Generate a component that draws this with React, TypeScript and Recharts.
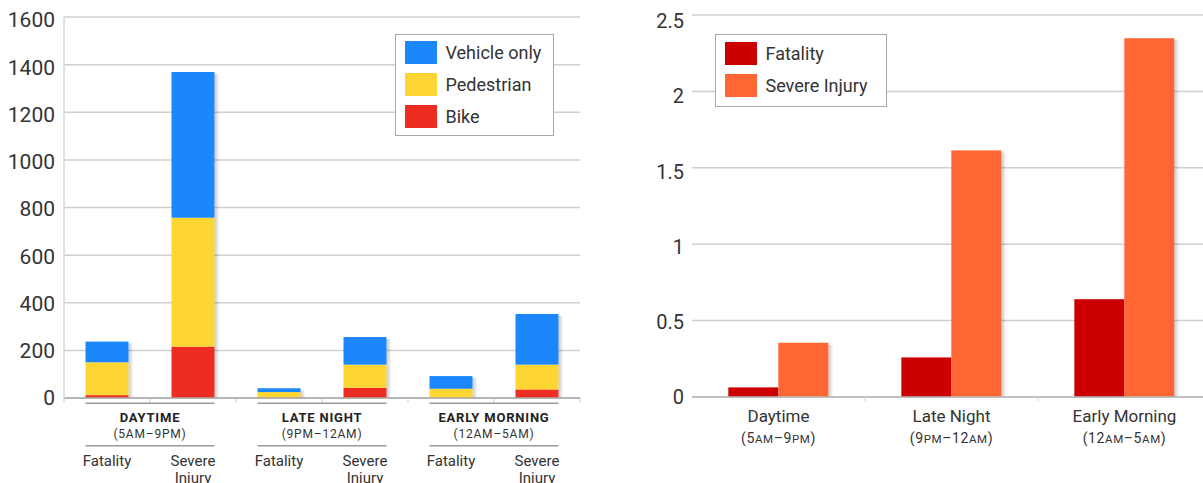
import React from 'react';
import { BarChart, Bar, XAxis, YAxis, CartesianGrid, Legend } from 'recharts';

// ---------- Left chart data ----------
const timeGroups = ['DAYTIME', 'LATE NIGHT', 'EARLY MORNING'];
const timeRanges = ['(5AM–9PM)', '(9PM–12AM)', '(12AM–5AM)'];
const severityLabels = ['Fatality', 'Severe Injury'];
const vehicleOnly = [87, 612, 16, 116, 53, 213];
const pedestrian = [138, 541, 24, 97, 39, 104];
const bike = [12, 216, 1, 43, 0, 36];
const leftTicks = [0, 200, 400, 600, 800, 1000, 1200, 1400, 1600];

// ---------- Right chart data ----------
const periods = ['Daytime', 'Late Night', 'Early Morning'];
const periodRanges = ['(5AM–9PM)', '(9PM–12AM)', '(12AM–5AM)'];
const fatalityRate = [0.063, 0.259, 0.64];
const severeInjuryRate = [0.355, 1.614, 2.348];
const rightTicks = [0, 0.5, 1, 1.5, 2, 2.5];

const leftSeries = [
  { key: 'vehicle', name: 'Vehicle only', color: '#1b87fb' },
  { key: 'pedestrian', name: 'Pedestrian', color: '#fdd633' },
  { key: 'bike', name: 'Bike', color: '#ee2d22' },
];
const rightSeries = [
  { key: 'fatality', name: 'Fatality', color: '#cc0000' },
  { key: 'severe', name: 'Severe Injury', color: '#ff6633' },
];

const leftData = timeGroups.flatMap((g, gi) =>
  severityLabels.map((s, si) => {
    const i = gi * 2 + si;
    return {
      cat: `${g}|${s}`,
      group: g,
      range: timeRanges[gi],
      severity: s,
      vehicle: vehicleOnly[i],
      pedestrian: pedestrian[i],
      bike: bike[i],
    };
  })
);

const rightData = periods.map((p, i) => ({
  period: p,
  range: periodRanges[i],
  fatality: fatalityRate[i],
  severe: severeInjuryRate[i],
}));

const FONT = 'Roboto, "DejaVu Sans", sans-serif';
const TEXT = '#333';

const LEFT_W = 590;
const LEFT_BAND = (LEFT_W - 64 - 10) / 6;
const RIGHT_BAND = 173;

const makeShadowBar = (gradId: string, inset: number) => (props: any) => {
  const { x, y, width, height, fill } = props;
  if (!height || height <= 0) return <g />;
  return (
    <g>
      <rect x={x + width} y={y + inset} width={5} height={Math.max(0, height - inset)} fill={`url(#${gradId})`} />
      <rect x={x} y={y} width={width} height={height} fill={fill} />
    </g>
  );
};

const LeftYTick = (props: any) => {
  const { x, y, payload } = props;
  return (
    <text x={x} y={y + (3 * payload.value) / 1600} dy="0.355em" textAnchor="end" fontSize={21} fill={TEXT} fontFamily={FONT}>
      {payload.value}
    </text>
  );
};

const RightYTick = (props: any) => {
  const { x, y, payload } = props;
  return (
    <text x={x} y={y + (6 * payload.value) / 2.5} dy="0.355em" textAnchor="end" fontSize={20} fill={TEXT} fontFamily={FONT}>
      {String(payload.value)}
    </text>
  );
};

const LeftXTick = (props: any) => {
  const { x, y, index, payload } = props;
  const row = leftData[index] || leftData.find((d) => d.cat === payload.value);
  const half = LEFT_BAND / 2;
  const barHalf = LEFT_BAND / 4;
  const isFirst = index % 2 === 0;
  const lines = row.severity.split(' ');
  return (
    <g fontFamily={FONT}>
      <line x1={x - half} x2={x - half} y1={y} y2={y + 4} stroke="#c8c8c8" />
      {index === leftData.length - 1 && <line x1={x + half} x2={x + half} y1={y} y2={y + 4} stroke="#c8c8c8" />}
      {isFirst && (
        <g>
          <line x1={x - barHalf} x2={x + LEFT_BAND + barHalf} y1={y + 5.3} y2={y + 5.3} stroke="#9a9a9a" strokeWidth={1.5} />
          <text x={x + half} y={y + 23.7} textAnchor="middle" fontSize={13} fontWeight="bold" letterSpacing={0.8} fill="#222">
            {row.group}
          </text>
          <text x={x + half} y={y + 40} textAnchor="middle" fontSize={12} letterSpacing={0.8} fill={TEXT}>
            {row.range}
          </text>
          <line x1={x - barHalf} x2={x + LEFT_BAND + barHalf} y1={y + 47.7} y2={y + 47.7} stroke="#9a9a9a" strokeWidth={1.5} />
        </g>
      )}
      {lines.map((t: string, i: number) => (
        <text key={i} x={x} y={y + 67.7 + i * 17} textAnchor="middle" fontSize={15} fill={TEXT}>
          {t}
        </text>
      ))}
    </g>
  );
};

const renderRange = (r: string) => {
  const parts = r.split(/(AM|PM)/).filter((p) => p.length > 0);
  return parts.map((p, i) =>
    p === 'AM' || p === 'PM' ? (
      <tspan key={i} fontSize={11.5}>{p}</tspan>
    ) : (
      <tspan key={i}>{p}</tspan>
    )
  );
};

const RightXTick = (props: any) => {
  const { x, y, index } = props;
  const row = rightData[index];
  const half = RIGHT_BAND / 2;
  return (
    <g fontFamily={FONT}>
      {index > 0 && <line x1={x - half} x2={x - half} y1={y} y2={y + 4} stroke="#d0d0d0" />}
      <text x={x} y={y + 25.4} textAnchor="middle" fontSize={17} fill={TEXT}>
        {row.period}
      </text>
      <text x={x} y={y + 45.7} textAnchor="middle" fontSize={14} letterSpacing={0.6} fill={TEXT}>
        {renderRange(row.range)}
      </text>
    </g>
  );
};

const LegendBox = ({ series, width, height, padTop }: any) => (
  <div
    style={{
      width,
      height,
      boxSizing: 'border-box',
      border: '1.5px solid #a8a8a8',
      background: '#fff',
      padding: `${padTop}px 8px 0 8.5px`,
      fontFamily: FONT,
    }}
  >
    {series.map((s: any) => (
      <div key={s.key} style={{ display: 'flex', alignItems: 'center', height: 23, marginBottom: 9 }}>
        <div style={{ width: 32, height: 23, background: s.color, marginRight: 9 }} />
        <span style={{ fontSize: 18, color: TEXT, whiteSpace: 'nowrap' }}>{s.name}</span>
      </div>
    ))}
  </div>
);

const LeftChart = () => (
  <BarChart
    width={LEFT_W}
    height={483}
    data={leftData}
    margin={{ top: 17, right: 10, bottom: 0, left: 0 }}
    barCategoryGap="25%"
  >
    <defs>
      <linearGradient id="shadowL" x1="0" x2="1" y1="0" y2="0">
        <stop offset="0" stopColor="#000" stopOpacity={0.22} />
        <stop offset="1" stopColor="#000" stopOpacity={0} />
      </linearGradient>
    </defs>
    <CartesianGrid vertical={false} stroke="#cfcfcf" strokeWidth={1.5} />
    <XAxis
      dataKey="cat"
      height={85}
      interval={0}
      tickLine={false}
      tickSize={0}
      tickMargin={0}
      axisLine={{ stroke: '#a8a8a8', strokeWidth: 1.5 }}
      tick={<LeftXTick />}
    />
    <YAxis
      width={64}
      domain={[0, 1600]}
      ticks={leftTicks}
      interval={0}
      tickLine={false}
      tickSize={0}
      tickMargin={9}
      axisLine={{ stroke: '#d8d8d8', strokeWidth: 1.5 }}
      tick={<LeftYTick />}
    />
    <Bar dataKey="bike" name="Bike" stackId="a" fill={leftSeries[2].color} shape={makeShadowBar('shadowL', 0)} isAnimationActive={false} />
    <Bar dataKey="pedestrian" name="Pedestrian" stackId="a" fill={leftSeries[1].color} shape={makeShadowBar('shadowL', 0)} isAnimationActive={false} />
    <Bar dataKey="vehicle" name="Vehicle only" stackId="a" fill={leftSeries[0].color} shape={makeShadowBar('shadowL', 2)} isAnimationActive={false} />
    <Legend
      layout="vertical"
      align="center"
      verticalAlign="middle"
      wrapperStyle={{ top: 34, left: 395, width: 159, height: 102 }}
      content={() => <LegendBox series={leftSeries} width={159} height={102} padTop={5.5} />}
    />
  </BarChart>
);

const RightChart = () => (
  <BarChart
    width={591}
    height={483}
    data={rightData}
    margin={{ top: 15, right: 0, bottom: 0, left: 0 }}
    barCategoryGap="21%"
    barGap={0}
  >
    <defs>
      <linearGradient id="shadowR" x1="0" x2="1" y1="0" y2="0">
        <stop offset="0" stopColor="#000" stopOpacity={0.22} />
        <stop offset="1" stopColor="#000" stopOpacity={0} />
      </linearGradient>
    </defs>
    <CartesianGrid vertical={false} stroke="#cfcfcf" strokeWidth={1.5} />
    <XAxis
      dataKey="period"
      height={86}
      interval={0}
      tickLine={false}
      tickSize={0}
      tickMargin={0}
      axisLine={{ stroke: '#b8b8b8', strokeWidth: 1.5 }}
      tick={<RightXTick />}
    />
    <YAxis
      width={72}
      domain={[0, 2.5]}
      ticks={rightTicks}
      interval={0}
      tickLine={false}
      tickSize={0}
      tickMargin={8}
      axisLine={false}
      tick={<RightYTick />}
    />
    <Bar dataKey="fatality" name="Fatality" fill={rightSeries[0].color} shape={makeShadowBar('shadowR', 2)} isAnimationActive={false} />
    <Bar dataKey="severe" name="Severe Injury" fill={rightSeries[1].color} shape={makeShadowBar('shadowR', 2)} isAnimationActive={false} />
    <Legend
      layout="vertical"
      align="center"
      verticalAlign="middle"
      wrapperStyle={{ top: 34, left: 95, width: 172, height: 73 }}
      content={() => <LegendBox series={rightSeries} width={172} height={73} padTop={6.5} />}
    />
  </BarChart>
);

export default function App() {
  return (
    <div
      style={{
        position: 'fixed',
        top: 0,
        left: 0,
        width: 1203,
        height: 483,
        overflow: 'hidden',
        background: '#fff',
        fontFamily: FONT,
      }}
    >
      <div style={{ position: 'absolute', left: 0, top: 0 }}>
        <LeftChart />
      </div>
      <div style={{ position: 'absolute', left: 620, top: 0 }}>
        <RightChart />
      </div>
    </div>
  );
}
